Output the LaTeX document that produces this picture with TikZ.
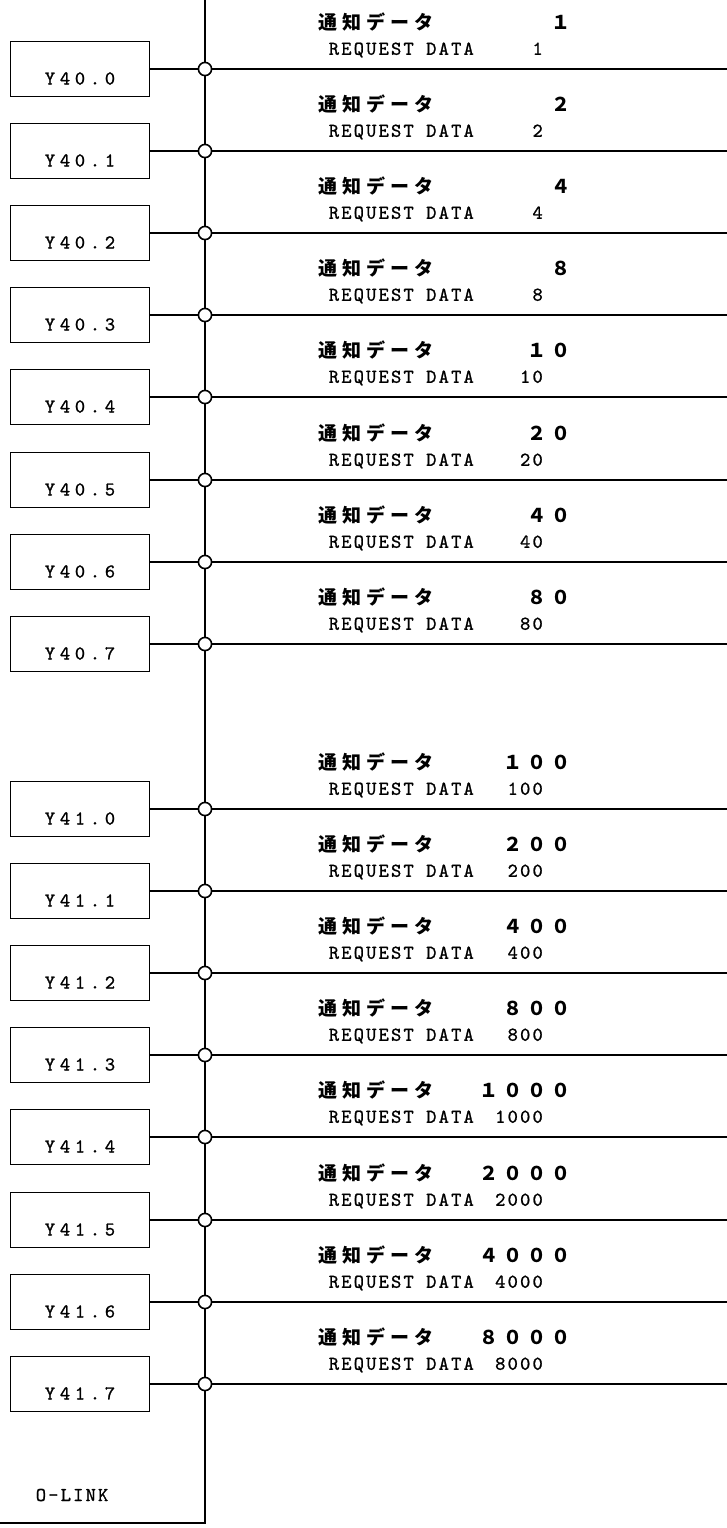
\documentclass[tikz,border=0pt]{standalone}
\usepackage{fontspec}
\usetikzlibrary{positioning}
\newfontfamily\jpfont[LetterSpace=26]{Noto Sans CJK JP}
\newfontfamily\monofont[LetterSpace=11,FakeBold=1]{Latin Modern Mono}
\newfontfamily\boxfont[LetterSpace=24,FakeBold=1]{Latin Modern Mono}

\begin{document}
\begin{tikzpicture}[x=0.5pt, y=-0.5pt, line width=0.8pt,
  ybox/.style={draw, minimum width=69.5pt, inner sep=0pt, text height=21.5pt, text depth=6pt,
    font=\boxfont\fontsize{9.8}{10}\selectfont},
  jct/.style={draw, fill=white, circle, minimum size=6.6pt, inner sep=0pt},
  jptext/.style={anchor=west, inner sep=0pt, font=\jpfont\bfseries\fontsize{9.5}{10}\selectfont},
  entext/.style={anchor=west, inner sep=0pt, font=\monofont\fontsize{9.8}{10}\selectfont}]

\useasboundingbox (0,0) rectangle (727,1528);

% O-LINK bus
\coordinate (bustop) at (205,0);
\coordinate (busend) at (205,1523);
\coordinate (olink) at (0,1523);
\draw (bustop) -- (busend) -- (olink);
\node[entext] (ol) at (35,1495) {O-LINK};

% outputs Y40.x / Y41.x
\foreach \y/\lab/\jp/\en [count=\i] in {
    69/Y40.0/１/1, 151/Y40.1/２/2, 233/Y40.2/４/4, 315/Y40.3/８/8,
    397/Y40.4/１０/10, 480/Y40.5/２０/20, 562/Y40.6/４０/40, 644/Y40.7/８０/80,
    809/Y41.0/１００/100, 891/Y41.1/２００/200, 973/Y41.2/４００/400, 1055/Y41.3/８００/800,
    1137/Y41.4/１０００/1000, 1220/Y41.5/２０００/2000, 1302/Y41.6/４０００/4000, 1384/Y41.7/８０００/8000}
{
  \node[jct] (j\i) at (205,\y) {};
  \node[ybox] (b\i) at (80,\y) {\lab};
  \coordinate (e\i) at (727,\y);
  \draw (b\i) -- (j\i);
  \draw (j\i) -- (e\i);
  \node[jptext] (t\i) at (318,\y-47) {\makebox[126pt][l]{通知データ\hfill\jp}};
  \node[entext] (r\i) at (328,\y-19) {\makebox[107pt][l]{REQUEST DATA\hfill\en}};
}

\end{tikzpicture}
\end{document}
